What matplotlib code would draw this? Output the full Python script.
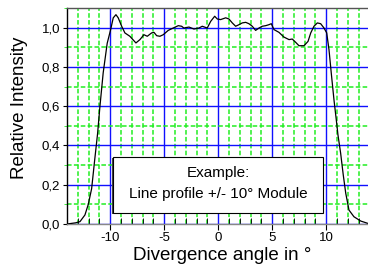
import matplotlib
matplotlib.use("Agg")
import matplotlib.pyplot as plt
from matplotlib.patches import Rectangle
from matplotlib.ticker import MultipleLocator, FixedFormatter, FixedLocator

plt.rcParams['font.family'] = ['Liberation Sans', 'DejaVu Sans']

# line profile
angle = [-14.0, -13.73, -13.2, -12.8, -12.34, -12.03, -11.72, -11.42, -11.17, -10.95,
         -10.65, -10.28, -9.96, -9.72, -9.47, -9.26, -8.94, -8.64, -8.18, -7.62,
         -7.25, -6.88, -6.57, -6.17, -5.95, -5.70, -5.40, -5.09, -4.63, -4.17,
         -3.70, -3.39, -3.18, -2.71, -2.25, -1.79, -1.48, -1.02, -0.70, -0.33,
         -0.09, 0.22, 0.69, 0.99, 1.30, 1.61, 1.92, 2.22, 2.54, 2.84,
         3.15, 3.46, 3.77, 4.07, 4.39, 4.69, 4.91, 5.16, 5.62, 6.08,
         6.55, 6.85, 7.17, 7.47, 7.94, 8.31, 8.56, 8.86, 9.17, 9.48,
         9.79, 10.04, 10.25, 10.46, 10.71, 10.96, 11.08, 11.33, 11.57, 11.80,
         12.10, 12.56, 13.19, 13.80]
intensity = [0.0, 0.002, 0.006, 0.012, 0.046, 0.10, 0.18, 0.335, 0.46, 0.60,
             0.77, 0.92, 0.99, 1.05, 1.066, 1.05, 1.007, 0.973, 0.956, 0.922,
             0.939, 0.964, 0.956, 0.973, 0.976, 0.959, 0.956, 0.964, 0.986, 0.998,
             1.01, 1.007, 0.998, 1.003, 0.993, 0.998, 1.007, 0.998, 1.032, 1.058,
             1.044, 1.041, 1.05, 1.044, 1.024, 1.007, 1.015, 1.024, 1.027, 1.02,
             1.007, 0.986, 0.998, 1.007, 1.01, 1.015, 1.02, 0.99, 0.976, 0.952,
             0.939, 0.942, 0.925, 0.908, 0.908, 0.93, 0.973, 1.007, 1.024, 1.02,
             0.998, 0.973, 0.888, 0.769, 0.633, 0.514, 0.454, 0.36, 0.25, 0.157,
             0.071, 0.037, 0.015, 0.004]

xticks = [-10, -5, 0, 5, 10]
xticklabels = ["-10", "-5", "0", "5", "10"]
yticks = [0.0, 0.2, 0.4, 0.6, 0.8, 1.0]
yticklabels = ["0,0", "0,2", "0,4", "0,6", "0,8", "1,0"]

fig = plt.figure(figsize=(3.68, 2.69), dpi=100)
ax = fig.add_axes([67/368, 45/269, 302.5/368, 216/269])

ax.set_xlim(-14, 14)
ax.set_ylim(0, 1.1)

ax.xaxis.set_major_locator(FixedLocator(xticks))
ax.xaxis.set_major_formatter(FixedFormatter(xticklabels))
ax.xaxis.set_minor_locator(MultipleLocator(1))
ax.yaxis.set_major_locator(FixedLocator(yticks))
ax.yaxis.set_major_formatter(FixedFormatter(yticklabels))
ax.yaxis.set_minor_locator(MultipleLocator(0.1))

ax.grid(which='minor', color='#22ee22', linestyle=(0, (3, 1.5)), linewidth=1.1)
ax.grid(which='major', color='#1010ff', linestyle='-', linewidth=1.0)
ax.set_axisbelow(True)

ax.plot(angle, intensity, color='black', linewidth=0.9, zorder=3)

ax.spines['right'].set_visible(False)
ax.spines['top'].set_color('#555555')
ax.spines['bottom'].set_color('#888888')
ax.spines['left'].set_color('black')
for s in ax.spines.values():
    s.set_linewidth(1.0)

ax.tick_params(axis='x', which='major', direction='out', length=4, labelsize=9.5, pad=2)
ax.tick_params(axis='x', which='minor', direction='in', length=4)
ax.tick_params(axis='y', which='major', direction='out', length=3, labelsize=9.5, pad=2)
ax.tick_params(axis='y', which='minor', direction='out', length=2, color='#22ee22')

ax.set_xlabel("Divergence angle in °", fontsize=13.5)
ax.xaxis.set_label_coords(0.512, -0.105)
ax.set_ylabel("Relative Intensity", fontsize=13.5)
ax.yaxis.set_label_coords(-0.129, 0.54)

# annotation box with a little shadow
ax.add_patch(Rectangle((0.148, 0.045), 0.694, 0.259, transform=ax.transAxes,
                       facecolor='#444444', edgecolor='none', zorder=4))
ax.add_patch(Rectangle((0.152, 0.051), 0.694, 0.259, transform=ax.transAxes,
                       facecolor='white', edgecolor='black', linewidth=0.8, zorder=5))
ax.text(0.499, 0.236, "Example:", transform=ax.transAxes, ha='center', va='center',
        fontsize=11, zorder=6)
ax.text(0.499, 0.139, "Line profile +/- 10° Module", transform=ax.transAxes,
        ha='center', va='center', fontsize=11, zorder=6)

fig.savefig("out.png", dpi=100)
